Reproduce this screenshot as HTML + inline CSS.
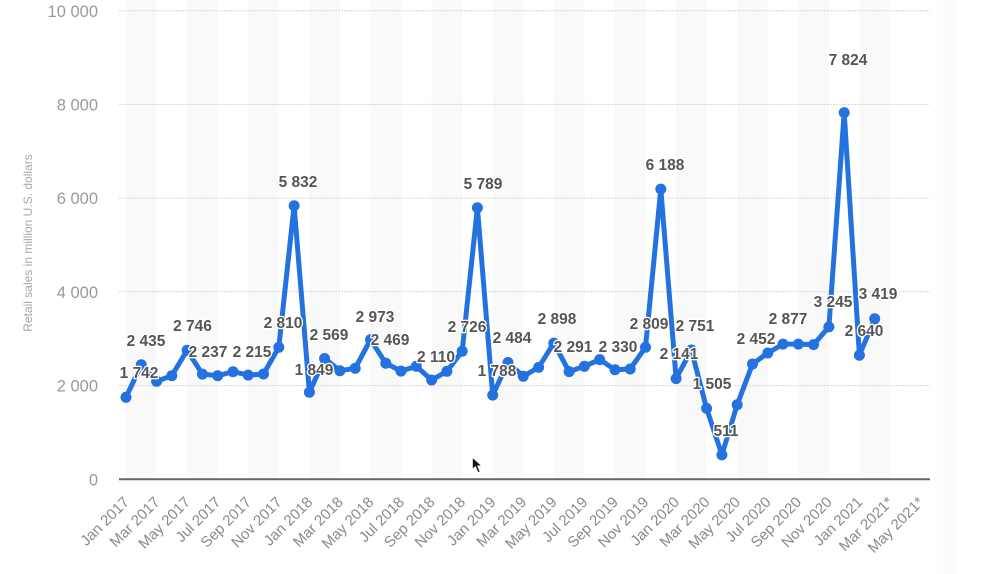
<!DOCTYPE html>
<html>
<head>
<meta charset="utf-8">
<style>
html,body{margin:0;padding:0;background:#fff;}
svg{display:block;}
.yl{font-family:"Liberation Sans",sans-serif;font-size:16.5px;fill:#9a9a9a;text-anchor:end;}
.xl{font-family:"Liberation Sans",sans-serif;font-size:15px;fill:#8a8a8a;text-anchor:end;}
.dl{font-family:"Liberation Sans",sans-serif;font-size:15.5px;font-weight:bold;fill:#555;text-anchor:middle;stroke:#fff;stroke-width:2.5px;paint-order:stroke;stroke-linejoin:round;}
</style>
</head>
<body>
<svg width="983" height="574" viewBox="0 0 983 574" xmlns="http://www.w3.org/2000/svg">
<rect x="0" y="0" width="983" height="574" fill="#fff"/>
<rect x="937" y="0" width="18" height="574" fill="#fcfcfc"/>
<!-- bands -->
<g fill="#f9f9f9">
<rect x="126" y="0" width="30.6" height="479"/>
<rect x="187.1" y="0" width="30.6" height="479"/>
<rect x="248.2" y="0" width="30.6" height="479"/>
<rect x="309.4" y="0" width="30.6" height="479"/>
<rect x="370.5" y="0" width="30.6" height="479"/>
<rect x="431.6" y="0" width="30.6" height="479"/>
<rect x="492.7" y="0" width="30.6" height="479"/>
<rect x="553.8" y="0" width="30.6" height="479"/>
<rect x="615.0" y="0" width="30.6" height="479"/>
<rect x="676.1" y="0" width="30.6" height="479"/>
<rect x="737.2" y="0" width="30.6" height="479"/>
<rect x="798.3" y="0" width="30.6" height="479"/>
<rect x="859.4" y="0" width="30.6" height="479"/>
</g>
<!-- grid -->
<g stroke="#d6d6d6" stroke-width="1" stroke-dasharray="2,1">
<line x1="119" y1="10.7" x2="930" y2="10.7"/>
<line x1="119" y1="104.4" x2="930" y2="104.4"/>
<line x1="119" y1="198.1" x2="930" y2="198.1"/>
<line x1="119" y1="291.8" x2="930" y2="291.8"/>
<line x1="119" y1="385.6" x2="930" y2="385.6"/>
</g>
<line x1="119" y1="479.3" x2="930" y2="479.3" stroke="#666" stroke-width="2"/>
<!-- y labels -->
<text class="yl" x="98" y="17">10 000</text>
<text class="yl" x="98" y="110.5">8 000</text>
<text class="yl" x="98" y="204">6 000</text>
<text class="yl" x="98" y="298">4 000</text>
<text class="yl" x="98" y="391.5">2 000</text>
<text class="yl" x="98" y="485.5">0</text>
<text transform="translate(32,243) rotate(-90)" font-family="Liberation Sans, sans-serif" font-size="12px" fill="#a8a8a8" text-anchor="middle">Retail sales in million U.S. dollars</text>
<!-- x labels -->
<g>
<text class="xl" transform="translate(130,503) rotate(-45)">Jan 2017</text>
<text class="xl" transform="translate(160.6,503) rotate(-45)">Mar 2017</text>
<text class="xl" transform="translate(191.1,503) rotate(-45)">May 2017</text>
<text class="xl" transform="translate(221.7,503) rotate(-45)">Jul 2017</text>
<text class="xl" transform="translate(252.2,503) rotate(-45)">Sep 2017</text>
<text class="xl" transform="translate(282.8,503) rotate(-45)">Nov 2017</text>
<text class="xl" transform="translate(313.4,503) rotate(-45)">Jan 2018</text>
<text class="xl" transform="translate(343.9,503) rotate(-45)">Mar 2018</text>
<text class="xl" transform="translate(374.5,503) rotate(-45)">May 2018</text>
<text class="xl" transform="translate(405,503) rotate(-45)">Jul 2018</text>
<text class="xl" transform="translate(435.6,503) rotate(-45)">Sep 2018</text>
<text class="xl" transform="translate(466.2,503) rotate(-45)">Nov 2018</text>
<text class="xl" transform="translate(496.7,503) rotate(-45)">Jan 2019</text>
<text class="xl" transform="translate(527.3,503) rotate(-45)">Mar 2019</text>
<text class="xl" transform="translate(557.8,503) rotate(-45)">May 2019</text>
<text class="xl" transform="translate(588.4,503) rotate(-45)">Jul 2019</text>
<text class="xl" transform="translate(619,503) rotate(-45)">Sep 2019</text>
<text class="xl" transform="translate(649.5,503) rotate(-45)">Nov 2019</text>
<text class="xl" transform="translate(680.1,503) rotate(-45)">Jan 2020</text>
<text class="xl" transform="translate(710.6,503) rotate(-45)">Mar 2020</text>
<text class="xl" transform="translate(741.2,503) rotate(-45)">May 2020</text>
<text class="xl" transform="translate(771.8,503) rotate(-45)">Jul 2020</text>
<text class="xl" transform="translate(802.3,503) rotate(-45)">Sep 2020</text>
<text class="xl" transform="translate(832.9,503) rotate(-45)">Nov 2020</text>
<text class="xl" transform="translate(863.4,503) rotate(-45)">Jan 2021</text>
<text class="xl" transform="translate(894,503) rotate(-45)">Mar 2021*</text>
<text class="xl" transform="translate(924.6,503) rotate(-45)">May 2021*</text>
</g>
<!-- series -->
<polyline fill="none" stroke="#2372e0" stroke-width="5" stroke-linejoin="round" stroke-linecap="round" points="126.0,397.3 141.3,364.8 156.6,381.4 171.8,375.7 187.1,350.3 202.4,374.1 217.7,375.7 233.0,371.7 248.2,375.1 263.5,374.0 278.8,347.3 294.1,205.8 309.4,392.2 324.6,358.5 339.9,370.7 355.2,368.3 370.5,339.6 385.8,363.2 401.0,371.1 416.3,366.3 431.6,380.0 446.9,371.3 462.2,351.2 477.4,207.8 492.7,395.1 508.0,362.5 523.3,376.3 538.6,367.4 553.8,343.1 569.1,371.6 584.4,366.3 599.7,359.6 615.0,369.7 630.2,369.0 645.5,347.3 660.8,189.1 676.1,378.6 691.4,350.0 706.6,408.4 721.9,454.9 737.2,404.7 752.5,364.0 767.8,353.0 783.0,344.1 798.3,344.1 813.6,344.6 828.9,326.9 844.2,112.6 859.4,355.2 874.7,318.8"/>
<g fill="#2372e0">
<circle cx="126.0" cy="397.3" r="5.5"/><circle cx="141.3" cy="364.8" r="5.5"/><circle cx="156.6" cy="381.4" r="5.5"/><circle cx="171.8" cy="375.7" r="5.5"/><circle cx="187.1" cy="350.3" r="5.5"/><circle cx="202.4" cy="374.1" r="5.5"/><circle cx="217.7" cy="375.7" r="5.5"/><circle cx="233.0" cy="371.7" r="5.5"/><circle cx="248.2" cy="375.1" r="5.5"/><circle cx="263.5" cy="374.0" r="5.5"/><circle cx="278.8" cy="347.3" r="5.5"/><circle cx="294.1" cy="205.8" r="5.5"/><circle cx="309.4" cy="392.2" r="5.5"/><circle cx="324.6" cy="358.5" r="5.5"/><circle cx="339.9" cy="370.7" r="5.5"/><circle cx="355.2" cy="368.3" r="5.5"/><circle cx="370.5" cy="339.6" r="5.5"/><circle cx="385.8" cy="363.2" r="5.5"/><circle cx="401.0" cy="371.1" r="5.5"/><circle cx="416.3" cy="366.3" r="5.5"/><circle cx="431.6" cy="380.0" r="5.5"/><circle cx="446.9" cy="371.3" r="5.5"/><circle cx="462.2" cy="351.2" r="5.5"/><circle cx="477.4" cy="207.8" r="5.5"/><circle cx="492.7" cy="395.1" r="5.5"/><circle cx="508.0" cy="362.5" r="5.5"/><circle cx="523.3" cy="376.3" r="5.5"/><circle cx="538.6" cy="367.4" r="5.5"/><circle cx="553.8" cy="343.1" r="5.5"/><circle cx="569.1" cy="371.6" r="5.5"/><circle cx="584.4" cy="366.3" r="5.5"/><circle cx="599.7" cy="359.6" r="5.5"/><circle cx="615.0" cy="369.7" r="5.5"/><circle cx="630.2" cy="369.0" r="5.5"/><circle cx="645.5" cy="347.3" r="5.5"/><circle cx="660.8" cy="189.1" r="5.5"/><circle cx="676.1" cy="378.6" r="5.5"/><circle cx="691.4" cy="350.0" r="5.5"/><circle cx="706.6" cy="408.4" r="5.5"/><circle cx="721.9" cy="454.9" r="5.5"/><circle cx="737.2" cy="404.7" r="5.5"/><circle cx="752.5" cy="364.0" r="5.5"/><circle cx="767.8" cy="353.0" r="5.5"/><circle cx="783.0" cy="344.1" r="5.5"/><circle cx="798.3" cy="344.1" r="5.5"/><circle cx="813.6" cy="344.6" r="5.5"/><circle cx="828.9" cy="326.9" r="5.5"/><circle cx="844.2" cy="112.6" r="5.5"/><circle cx="859.4" cy="355.2" r="5.5"/><circle cx="874.7" cy="318.8" r="5.5"/>
</g>
<!-- data labels -->
<g>
<text class="dl" x="139" y="378">1 742</text>
<text class="dl" x="146" y="346">2 435</text>
<text class="dl" x="192.5" y="331">2 746</text>
<text class="dl" x="208" y="357">2 237</text>
<text class="dl" x="252" y="357">2 215</text>
<text class="dl" x="283" y="328">2 810</text>
<text class="dl" x="298" y="187">5 832</text>
<text class="dl" x="314" y="375">1 849</text>
<text class="dl" x="329" y="340">2 569</text>
<text class="dl" x="375" y="322">2 973</text>
<text class="dl" x="390" y="345">2 469</text>
<text class="dl" x="436" y="362">2 110</text>
<text class="dl" x="467" y="332">2 726</text>
<text class="dl" x="483" y="189">5 789</text>
<text class="dl" x="497" y="376">1 788</text>
<text class="dl" x="512" y="343">2 484</text>
<text class="dl" x="557" y="324">2 898</text>
<text class="dl" x="573" y="352">2 291</text>
<text class="dl" x="618" y="352">2 330</text>
<text class="dl" x="649" y="329">2 809</text>
<text class="dl" x="665" y="170">6 188</text>
<text class="dl" x="679" y="359">2 141</text>
<text class="dl" x="695" y="331">2 751</text>
<text class="dl" x="712" y="389">1 505</text>
<text class="dl" x="726" y="436">511</text>
<text class="dl" x="756" y="344">2 452</text>
<text class="dl" x="788" y="324">2 877</text>
<text class="dl" x="833" y="307">3 245</text>
<text class="dl" x="848" y="65">7 824</text>
<text class="dl" x="864" y="336">2 640</text>
<text class="dl" x="878" y="299">3 419</text>
</g>
<!-- cursor -->
<polygon points="472.5,457.5 472.5,469 475.5,466.5 478,472.5 480,471.5 477.5,465.8 481.5,465.8" fill="#111" stroke="#fff" stroke-width="0.6"/>
</svg>
</body>
</html>
